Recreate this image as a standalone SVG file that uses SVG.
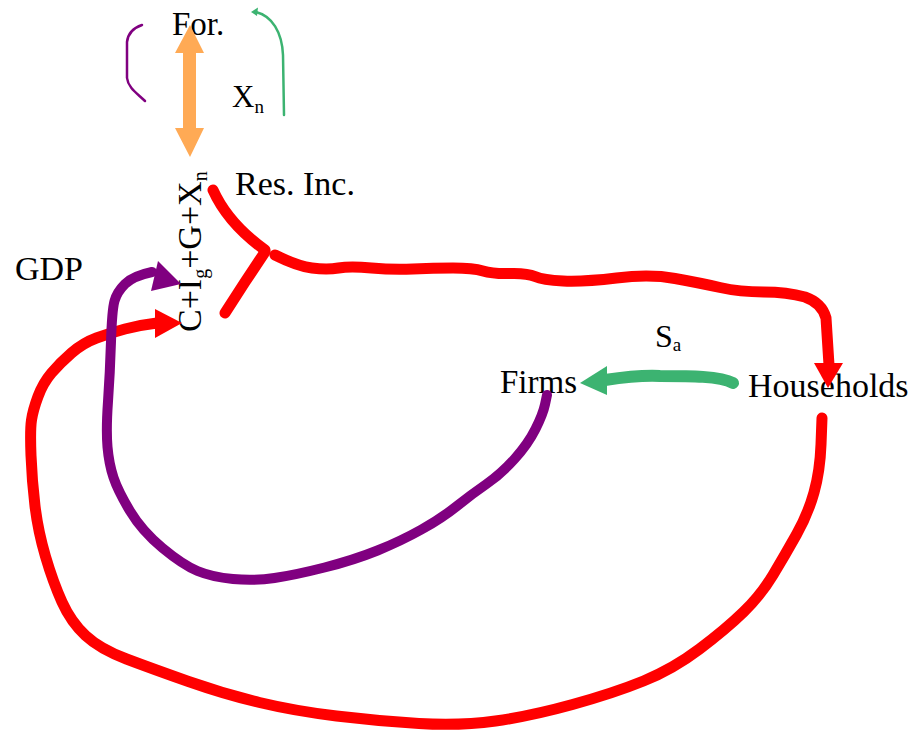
<svg xmlns="http://www.w3.org/2000/svg" width="918" height="733" viewBox="0 0 918 733">
  <style>
    .lbl { font-family: "Liberation Serif", "Times New Roman", serif; font-size: 33px; fill: #000; }
    .big { font-size: 34px; }
    .sub { font-size: 20px; }
    .red { fill: none; stroke: #FF0000; stroke-width: 11; stroke-linecap: round; stroke-linejoin: round; }
    .purple { fill: none; stroke: #800080; stroke-width: 10; stroke-linecap: round; stroke-linejoin: round; }
    .green { fill: none; stroke: #3CB371; stroke-width: 12; stroke-linecap: round; stroke-linejoin: round; }
    .thin { fill: none; stroke-width: 2.5; stroke-linecap: round; stroke-linejoin: round; }
  </style>
  <rect width="918" height="733" fill="#FFFFFF"/>

  <!-- nodes -->
  <g id="node-foreign">
    <text class="lbl" x="172" y="35">For.</text>
  </g>
  <g id="node-residents-income">
    <text class="lbl big" x="235" y="195">Res. Inc.</text>
  </g>
  <g id="node-gdp">
    <text class="lbl big" x="15" y="280">GDP</text>
  </g>
  <g id="node-gdp-expenditure">
    <text class="lbl big" transform="translate(201,332) rotate(-90)">C+I<tspan class="sub" dy="6">g</tspan><tspan dy="-6">+G+X</tspan><tspan class="sub" dy="6">n</tspan></text>
  </g>
  <g id="node-firms">
    <text class="lbl" x="500" y="393">Firms</text>
  </g>
  <g id="node-households">
    <text class="lbl big" x="748" y="397">Households</text>
  </g>

  <!-- connectors -->
  <g id="connectors">
    <!-- net exports exchange with the foreign sector -->
    <polygon fill="#FFAA55" points="190,25 204,53 196,53 196,128 204,128 190,157 175,128 183,128 183,53 175,53"/>
    <path class="thin" stroke="#800080" d="M142,25 C133,28 128,33 127,42 L127,78 C128,88 138,94 145,101"/>
    <path class="thin" stroke="#3CB371" stroke-width="2" d="M284,115 L283,55 C282,32 272,16 256,12"/>
    <polygon fill="#3CB371" points="251,12 258,7.5 257,16"/>
    <text class="lbl" x="232" y="107" style="font-size:31px">X<tspan dy="6" style="font-size:19px">n</tspan></text>

    <!-- residents' income split -->
    <path class="red" d="M213,190 C222,210 240,232 265,250"/>
    <path class="red" d="M265,252 L245,282 L225,313"/>
    <path class="red" d="M275,255 Q297,266 312,268 Q327,270 338.5,268 Q350,266 371.5,268 Q393,270 413,269 Q433,268 453,268 Q473,268 483,271 Q493,274 510,273.5 Q527,273 535,276.5 Q543,280 563,281 Q583,282 616.5,278 Q650,274 675,278.5 Q700,283 720,287.5 Q740,292 763.5,292 Q787,292 805,297 Q822,303 826,318 L829,365"/>
    <polygon fill="#FF0000" points="814,363 843,363 828,388"/>

    <!-- household spending back to GDP -->
    <path class="red" d="M822,418 L821,444.5 Q820,471 814,492.5 Q808,514 796.5,534.5 Q785,555 773,575 Q761,595 743.5,612 Q726,629 699.5,649 Q673,669 643.5,681 Q614,693 572.5,704.5 Q531,716 495.5,721 Q460,726 419,723.5 Q378,721 336.5,716 Q295,711 259.5,702.5 Q224,694 188.5,681.5 Q153,669 126.5,659 Q100,649 85.5,635.5 Q71,622 62,602 Q53,582 45.5,556.5 Q38,531 35,506 Q32,481 31,455.5 Q30,430 31.5,420 Q33,410 38,396.5 Q43,383 51.5,373 Q60,363 71.5,353 Q83,343 96.5,338 Q110,333 125,329 Q140,325 157,323"/>
    <polygon fill="#FF0000" points="155,309 155,338 182,323"/>

    <!-- firms' investment back to GDP -->
    <path class="purple" d="M547,395 L545,404.5 Q543,414 535.5,429 Q528,444 514.5,459 Q501,474 486.5,484 Q472,494 457,506 Q442,518 421.5,529.5 Q401,541 377.5,550.5 Q354,560 324.5,567.5 Q295,575 274.5,578 Q254,581 233,579 Q212,577 197.5,571 Q183,565 162.5,548 Q142,531 130,511 Q118,491 113.5,477.5 Q109,464 107.5,447 Q106,430 108,401.5 Q110,373 111,341.5 Q112,310 114.5,301 Q117,292 125,284 Q133,276 152,272"/>
    <polygon fill="#800080" points="158,261 151,291 181,284"/>

    <!-- savings from households to firms -->
    <path class="green" d="M733,383 C720,376 690,376 660,376 C640,375 625,377 605,380"/>
    <polygon fill="#3CB371" points="607,366 607,395 580,383"/>
    <text class="lbl" x="655" y="347" style="font-size:32px">S<tspan dy="4" style="font-size:19px">a</tspan></text>
  </g>
</svg>
